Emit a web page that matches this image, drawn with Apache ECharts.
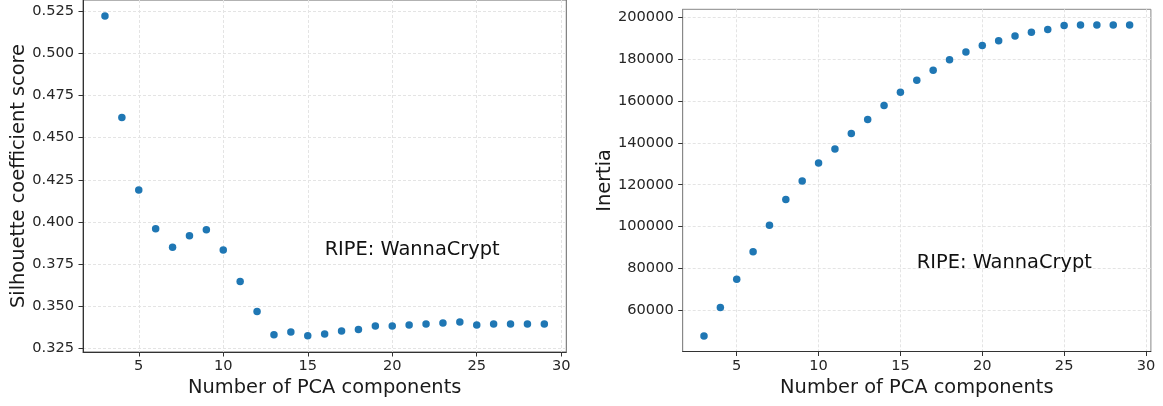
<!DOCTYPE html>
<html>
<head>
<meta charset="utf-8">
<script src="https://cdn.jsdelivr.net/npm/echarts@6/dist/echarts.min.js"></script>
<style>
html,body{margin:0;padding:0;background:#fff;}
#c{width:1163px;height:406px;}
</style>
</head>
<body>
<div id="c"></div>
<script>
// ---- data ----
const components = [3,4,5,6,7,8,9,10,11,12,13,14,15,16,17,18,19,20,21,22,23,24,25,26,27,28,29];
const silhouette = [0.5222,0.4620,0.4189,0.3959,0.3849,0.3918,0.3953,0.3833,0.3646,0.3469,0.3331,0.3347,0.3325,0.3335,0.3353,0.3361,0.3382,0.3382,0.3388,0.3394,0.3400,0.3406,0.3388,0.3394,0.3394,0.3394,0.3394];
const inertia = [47800,61400,74900,88000,100600,113000,121800,130400,137100,144500,151200,157800,164100,169900,174700,179700,183400,186500,188800,191000,192800,194100,196000,196300,196300,196300,196300];
const xTicks = [5,10,15,20,25,30];
const silTicks = [0.325,0.350,0.375,0.400,0.425,0.450,0.475,0.500,0.525];
const inertiaTicks = [60000,80000,100000,120000,140000,160000,180000,200000];
const annotation = 'RIPE: WannaCrypt';

const FONT = 'DejaVu Sans';
const chart = echarts.init(document.getElementById('c'), null, {renderer:'canvas'});

function xAxis(gridIndex){
  return {
    type:'value', gridIndex, min:1.7, max:30.3,
    name:'Number of PCA components', nameLocation:'middle', nameGap:26,
    nameTextStyle:{fontFamily:FONT, fontSize:19.4, color:'#1a1a1a'},
    axisLine:{show:true, onZero:false, lineStyle:{color:'#333', width:1}},
    axisTick:{show:true, customValues:xTicks, length:4.5, lineStyle:{color:'#333'}},
    axisLabel:{customValues:xTicks, margin:7, fontFamily:FONT, fontSize:14.6, color:'#262626'},
    splitLine:{show:true, lineStyle:{color:'#e4e4e4', type:[3,2], width:1}}
  };
}
function yAxis(gridIndex, name, min, max, ticks, fmt, gap, lineColor){
  return {
    type:'value', gridIndex, min, max,
    name, nameLocation:'middle', nameGap:gap,
    nameTextStyle:{fontFamily:FONT, fontSize:19.4, color:'#1a1a1a'},
    axisLine:{show:true, onZero:false, lineStyle:{color:lineColor, width:1}},
    axisTick:{show:true, customValues:ticks, length:4.5, lineStyle:{color:'#333'}},
    axisLabel:{customValues:ticks, margin:9, fontFamily:FONT, fontSize:14.6, color:'#262626', formatter:fmt},
    splitLine:{show:true, lineStyle:{color:'#e4e4e4', type:[3,2], width:1}}
  };
}

const silData = components.map((c,i)=>[c, silhouette[i]]);
const inData = components.map((c,i)=>[c, inertia[i]]);

function annot(xi, pt){
  return {type:'scatter', xAxisIndex:xi, yAxisIndex:xi, data:[pt], symbolSize:0, silent:true,
    itemStyle:{opacity:1},
    label:{show:true, formatter:annotation, position:[0,0], align:'left', verticalAlign:'middle', offset:[0,-6],
      fontFamily:FONT, fontSize:19.4, color:'#111', opacity:1}};
}

chart.setOption({
  animation:false,
  backgroundColor:'#fff',
  grid:[
    {left:83, width:483.3, top:-1.5, height:353.5, show:true, borderColor:'#666', borderWidth:1, backgroundColor:'transparent'},
    {left:682.7, width:468.2, top:9.3, height:342.2, show:true, borderColor:'#888', borderWidth:1, backgroundColor:'transparent'}
  ],
  xAxis:[xAxis(0), xAxis(1)],
  yAxis:[
    yAxis(0,'Silhouette coefficient score',0.3228,0.5317,silTicks,v=>v.toFixed(3),55,'#333'),
    yAxis(1,'Inertia',40373,203757,inertiaTicks,v=>String(Math.round(v)),65,'#888')
  ],
  series:[
    {type:'scatter', xAxisIndex:0, yAxisIndex:0, data:silData, symbolSize:7.5, itemStyle:{color:'#1f77b4', opacity:1}},
    {type:'scatter', xAxisIndex:1, yAxisIndex:1, data:inData, symbolSize:7.5, itemStyle:{color:'#1f77b4', opacity:1}},
    annot(0,[16,0.38]),
    annot(1,[16,80000])
  ]
});
</script>
</body>
</html>
